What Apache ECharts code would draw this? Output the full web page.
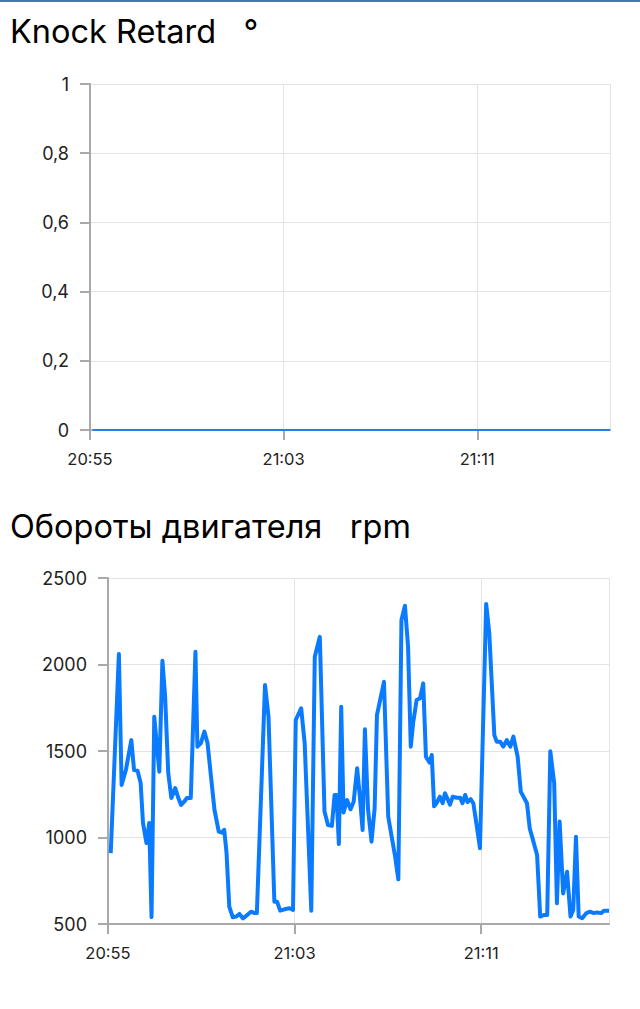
<!DOCTYPE html>
<html>
<head>
<meta charset="utf-8">
<script src="https://cdn.jsdelivr.net/npm/echarts@6/dist/echarts.min.js"></script>
<style>
html,body{margin:0;padding:0;background:#fff;}
#topbar{position:absolute;left:0;top:0;width:640px;height:2px;background:#4677b0;z-index:10;}
#chart{width:640px;height:1009px;}
</style>
</head>
<body>
<div id="topbar"></div>
<div id="chart"></div>
<script>
// ---- data ----
var knockTitle = 'Knock Retard   °';
var rpmTitle = 'Обороты двигателя   rpm';
var axisStart = '20:55:00';
var axisEnd = '21:16:29';
var tickStepMinutes = 8;

var times = [
'20:55:07','20:55:28','20:55:35','20:55:46','20:56:00','20:56:07','20:56:16','20:56:24','20:56:30','20:56:39',
'20:56:46','20:56:52','20:56:59','20:57:12','20:57:20','20:57:27','20:57:35','20:57:43','20:57:53','20:58:01',
'20:58:08','20:58:16','20:58:23','20:58:33','20:58:45','20:58:50','20:58:59','20:59:08','20:59:16','20:59:25',
'20:59:34','20:59:45','20:59:53','20:59:59','21:00:05','21:00:12','21:00:21','21:00:30','21:00:38','21:00:47',
'21:00:55','21:01:08','21:01:17','21:01:23','21:01:44','21:01:53','21:02:08','21:02:15','21:02:23','21:02:34',
'21:02:47','21:02:56','21:03:03','21:03:17','21:03:26','21:03:43','21:03:52','21:04:05','21:04:17','21:04:26',
'21:04:36','21:04:43','21:04:48','21:04:54','21:05:00','21:05:06','21:05:15','21:05:24','21:05:32','21:05:41',
'21:05:48','21:05:55','21:06:01','21:06:09','21:06:18','21:06:26','21:06:32','21:06:50','21:07:01','21:07:11',
'21:07:18','21:07:27','21:07:35','21:07:44','21:07:52','21:07:59','21:08:05','21:08:14','21:08:23','21:08:31',
'21:08:38','21:08:47','21:08:53','21:08:59','21:09:05','21:09:14','21:09:21','21:09:27','21:09:40','21:09:47',
'21:09:57','21:10:06','21:10:12','21:10:19','21:10:25','21:10:33','21:10:40','21:10:49','21:10:57','21:11:13',
'21:11:21','21:11:34','21:11:40','21:11:49','21:11:57','21:12:06','21:12:15','21:12:23','21:12:34','21:12:42',
'21:12:49','21:12:58','21:13:05','21:13:11','21:13:24','21:13:32','21:13:41','21:13:50','21:13:58','21:14:08',
'21:14:15','21:14:22','21:14:31','21:14:41','21:14:50','21:14:57','21:15:04','21:15:11','21:15:20','21:15:31',
'21:15:40','21:15:50','21:15:58','21:16:09','21:16:16','21:16:29'
];

var rpmValues = [
910,2060,1304,1390,1563,1390,1386,1315,1084,968,
1084,540,1698,1380,2022,1814,1373,1228,1286,1228,
1188,1207,1228,1228,2074,1525,1546,1612,1546,1352,
1159,1034,1028,1044,910,600,539,543,558,533,
546,571,563,563,1882,1698,629,629,577,585,
591,581,1679,1747,1546,577,2045,2160,1150,1072,
1067,1246,1246,962,1756,1144,1217,1163,1207,1400,
1236,1044,1626,1163,976,1169,1708,1900,1120,990,
900,758,2257,2340,2103,1525,1662,1795,1805,1891,
1467,1433,1477,1180,1198,1236,1198,1256,1190,1236,
1230,1230,1198,1246,1205,1222,1198,1063,938,2350,
2180,1592,1554,1554,1525,1563,1525,1583,1467,1265,
1236,1198,1054,1005,899,543,552,552,1498,1313,
620,1092,677,802,543,581,1005,543,533,563,
571,563,567,563,577,577
];

var knockValues = times.map(function(){ return 0; });

// ---- build ----
function toSec(t){ var p=t.split(':'); return (+p[0])*3600+(+p[1])*60+(+p[2]); }
function fmtTime(s){ var h=Math.floor(s/3600), m=Math.floor((s%3600)/60); return h+':'+(m<10?'0':'')+m; }
var xMin = toSec(axisStart), xMax = toSec(axisEnd);
var rpmData = times.map(function(t,i){ return [toSec(t), rpmValues[i]]; });
var knockData = times.map(function(t,i){ return [toSec(t), knockValues[i]]; });

var FONT = 'Inter, "Noto Sans", sans-serif';
var axisGray = '#a9a9a9';
var gridGray = '#e3e3e3';

function xAxisCfg(gi){
  return {
    type:'value', gridIndex:gi, min:xMin, max:xMax, interval:tickStepMinutes*60,
    axisLine:{show:true, onZero:false, lineStyle:{color:axisGray, width:2}},
    axisTick:{show:true, length:10, lineStyle:{color:axisGray, width:2}},
    splitLine:{show:true, lineStyle:{color:gridGray, width:1}},
    axisLabel:{formatter:function(v){ return fmtTime(v); }, color:'#222', fontSize:16.5, fontFamily:FONT, margin:20, showMaxLabel:false}
  };
}
function yAxisCfg(gi, min, max, interval, fmt){
  return {
    type:'value', gridIndex:gi, min:min, max:max, interval:interval,
    axisLine:{show:true, lineStyle:{color:axisGray, width:2}},
    axisTick:{show:true, length:10, lineStyle:{color:axisGray, width:2}},
    splitLine:{show:true, lineStyle:{color:gridGray, width:1}},
    axisLabel:{formatter:fmt, color:'#222', fontSize:18, fontFamily:FONT, margin:21}
  };
}

var chart = echarts.init(document.getElementById('chart'), null, {renderer:'svg', width:640, height:1009});
chart.setOption({
  animation:false,
  backgroundColor:'#fff',
  title:[
    {text:knockTitle, left:10, top:15, padding:0, textStyle:{fontFamily:FONT, fontSize:32.5, fontWeight:'normal', color:'#000'}},
    {text:rpmTitle, left:10, top:510, padding:0, textStyle:{fontFamily:FONT, fontSize:32.5, fontWeight:'normal', color:'#000'}}
  ],
  grid:[
    {left:90, top:84, width:520, height:346, containLabel:false},
    {left:108, top:578, width:501, height:346, containLabel:false}
  ],
  xAxis:[xAxisCfg(0), xAxisCfg(1)],
  yAxis:[
    yAxisCfg(0, 0, 1, 0.2, function(v){ return String(Math.round(v*10)/10).replace('.', ','); }),
    yAxisCfg(1, 500, 2500, 500, function(v){ return String(v); })
  ],
  series:[
    {type:'line', xAxisIndex:0, yAxisIndex:0, data:knockData, showSymbol:false, lineStyle:{color:'#1f80ec', width:2}, z:5},
    {type:'line', xAxisIndex:1, yAxisIndex:1, data:rpmData, showSymbol:false, lineStyle:{color:'#0a7bff', width:4, join:'round'}, z:5}
  ]
});
</script>
</body>
</html>
